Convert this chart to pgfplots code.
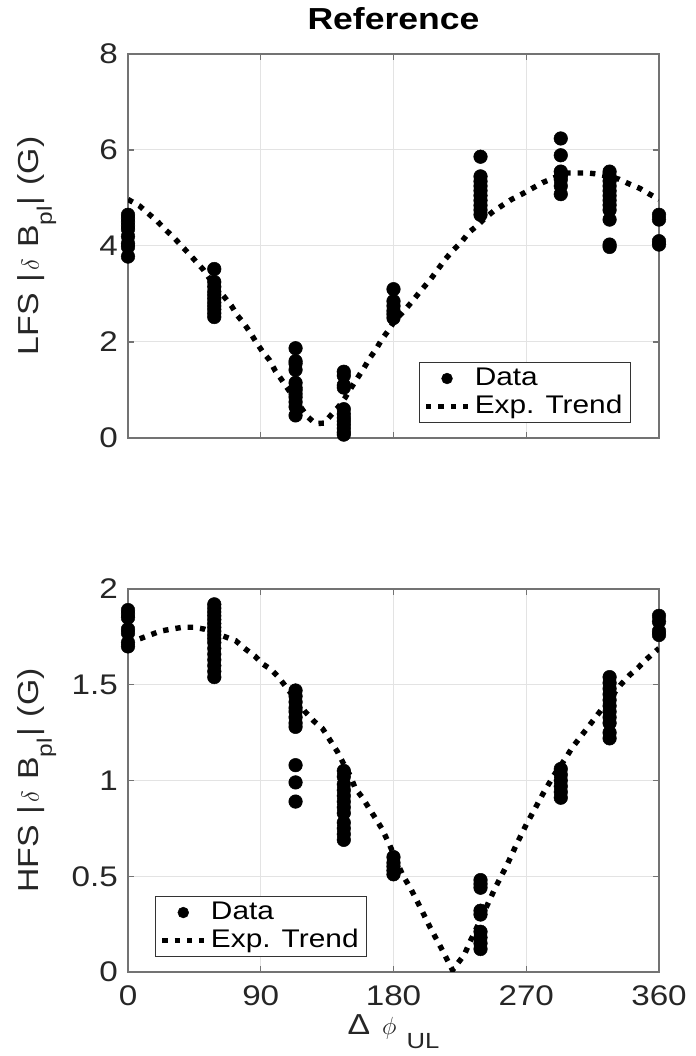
\documentclass[border=0pt]{standalone}
\usepackage{fontspec}
\setmainfont{Liberation Sans}[FakeStretch=1.17]
\usepackage{pgfplots}
\pgfplotsset{compat=1.18}
\definecolor{axgray}{gray}{0.45}
\definecolor{txt}{gray}{0.15}

\pgfplotstableread{
x y
0 4.65
0 4.58
0 4.50
0 4.42
0 4.35
0 4.20
0 4.05
0 3.98
0 3.78
58.5 3.52
58.5 3.25
58.5 3.15
58.5 3.05
58.5 2.98
58.5 2.90
58.5 2.82
58.5 2.75
58.5 2.68
58.5 2.60
58.5 2.52
113.6 1.87
113.6 1.60
113.6 1.55
113.6 1.42
113.6 1.15
113.6 1.05
113.6 1.00
113.6 0.92
113.6 0.85
113.6 0.75
113.6 0.65
113.6 0.47
146.3 1.38
146.3 1.30
146.3 1.10
146.3 1.05
146.3 0.60
146.3 0.50
146.3 0.42
146.3 0.35
146.3 0.28
146.3 0.20
146.3 0.12
146.3 0.07
180 3.10
180 2.85
180 2.75
180 2.65
180 2.58
180 2.50
239 5.86
239 5.45
239 5.35
239 5.25
239 5.15
239 5.05
239 4.95
239 4.85
239 4.75
239 4.65
293.4 6.24
293.4 5.89
293.4 5.55
293.4 5.45
293.4 5.38
293.4 5.25
293.4 5.08
326.5 5.55
326.5 5.45
326.5 5.35
326.5 5.25
326.5 5.15
326.5 5.05
326.5 4.95
326.5 4.85
326.5 4.75
326.5 4.55
326.5 4.03
326.5 3.98
360 4.65
360 4.55
360 4.10
360 4.03
}\lfsdata

\pgfplotstableread{
x y
0 4.97
8 4.83
14 4.67
20 4.51
25 4.35
31 4.18
36 4.01
41 3.85
46 3.68
51 3.51
58 3.20
65 2.95
70 2.76
74 2.56
79 2.37
83 2.19
87 1.99
91 1.81
96 1.62
100 1.39
104 1.22
108 1.04
114 0.78
121.5 0.45
127 0.30
133 0.31
138 0.49
143 0.66
147 0.83
152 1.08
156 1.27
160 1.46
164 1.67
168 1.84
172 2.05
177 2.26
181 2.45
186 2.61
192 2.82
198 3.05
205 3.30
210 3.51
215 3.72
220 3.90
226 4.08
231 4.28
237 4.43
242 4.58
248 4.73
254 4.85
260 4.97
267 5.08
274 5.20
281 5.32
288 5.41
293 5.47
298 5.52
305 5.52
312 5.52
318 5.50
326 5.45
333 5.39
340 5.29
347 5.20
353 5.09
360 4.97
}\lfstrend

\pgfplotstableread{
x y
0 1.89
0 1.87
0 1.85
0 1.79
0 1.77
0 1.72
0 1.70
58.5 1.92
58.5 1.90
58.5 1.88
58.5 1.86
58.5 1.84
58.5 1.82
58.5 1.80
58.5 1.78
58.5 1.76
58.5 1.74
58.5 1.72
58.5 1.69
58.5 1.66
58.5 1.63
58.5 1.60
58.5 1.57
58.5 1.54
113.6 1.47
113.6 1.44
113.6 1.41
113.6 1.38
113.6 1.36
113.6 1.33
113.6 1.30
113.6 1.28
113.6 1.08
113.6 0.99
113.6 0.89
146.3 1.05
146.3 1.02
146.3 0.98
146.3 0.95
146.3 0.92
146.3 0.89
146.3 0.86
146.3 0.83
146.3 0.78
146.3 0.75
146.3 0.72
146.3 0.69
180 0.60
180 0.57
180 0.55
180 0.53
180 0.51
239 0.48
239 0.46
239 0.44
239 0.32
239 0.30
239 0.21
239 0.18
239 0.15
239 0.12
293.4 1.06
293.4 1.03
293.4 1.00
293.4 0.97
293.4 0.94
293.4 0.91
326.5 1.54
326.5 1.51
326.5 1.48
326.5 1.45
326.5 1.42
326.5 1.39
326.5 1.36
326.5 1.33
326.5 1.30
326.5 1.25
326.5 1.22
360 1.86
360 1.83
360 1.78
360 1.76
}\hfsdata

\pgfplotstableread{
x y
0 1.72
8 1.74
15 1.76
22 1.78
29 1.79
37 1.80
45 1.80
52 1.79
59 1.77
66 1.75
73 1.73
79 1.69
86 1.65
91 1.61
97 1.58
102 1.54
107 1.49
114 1.42
120 1.36
126 1.31
132 1.27
137 1.21
142 1.15
146 1.09
151 1.02
154 0.96
159 0.91
163 0.86
168 0.80
172 0.75
177 0.67
182 0.58
186 0.51
192 0.43
198 0.34
205 0.23
212 0.13
216 0.07
220 0.01
223 0.04
228 0.09
232 0.16
237 0.24
243 0.34
249 0.44
257 0.56
263 0.66
270 0.77
275 0.84
282 0.94
289 1.03
297 1.12
301 1.17
307 1.23
312 1.28
320 1.36
326 1.42
334 1.50
340 1.55
346 1.59
351 1.63
357 1.67
360 1.69
}\hfstrend

\pgfplotsset{
  myaxis/.style={
    scale only axis, width=531bp, anchor=south west,
    xmin=0, xmax=360, xtick={0,90,180,270,360},
    grid=major, major grid style={gray!22, line width=1bp},
    axis line style={axgray, line width=1.3bp},
    tick style={axgray, line width=1.3bp},
    major tick length=6bp,
    tick align=inside, tick pos=both,
    ticklabel style={font=\fontsize{28.5}{30}\selectfont, text=txt, inner sep=0bp},
    xticklabel style={anchor=north, yshift=-13bp},
    yticklabel style={anchor=east, xshift=-10bp},
    /pgf/number format/assume math mode=true,
    label style={font=\fontsize{29}{31}\selectfont, text=txt},
    legend cell align=left,
    legend style={font=\fontsize{25.6}{28}\selectfont, text=black,
      draw=black!80, line width=1bp, inner xsep=4bp, inner ysep=2bp,
      row sep=0bp,
      nodes={text height=19bp, text depth=6bp, inner xsep=4bp, inner ysep=1.5bp}},
  },
  datastyle/.style={only marks, mark=*, mark size=6.8bp, black,
    mark options={draw=black, fill=black, line width=0.5bp},
    legend image code/.code={\draw[##1, mark size=5.4bp] plot coordinates {(21bp,0bp)};}},
  trendstyle/.style={black, line width=5.4bp, dash pattern=on 5.4bp off 7bp,
    legend image code/.code={\draw[##1] (0bp,0bp) -- (42bp,0bp);}},
}

\begin{document}
\begin{tikzpicture}
\useasboundingbox (0,0) rectangle (696bp,1056bp);
\begin{axis}[myaxis, at={(128bp,618bp)}, height=384bp,
  ymin=0, ymax=8, ytick={0,2,4,6,8}, xticklabels={},
  title={\bfseries Reference},
  title style={font=\fontsize{30.5}{32}\selectfont\bfseries, text=black, at={(0.5,1)}, anchor=base, yshift=19bp},
  ylabel={LFS\hspace{11bp}|\hspace{3bp}$\delta$\hspace{11bp}B\raisebox{-13bp}{\fontsize{21}{21}\selectfont pl}\hspace{1bp}|\hspace{11bp}(G)},
  ylabel style={at={(axis description cs:-0.168,0.5)}, anchor=base},
  legend style={at={(0.947,0.039)}, anchor=south east},
]
\addplot[datastyle] table[x=x,y=y] {\lfsdata};
\addlegendentry{Data}
\addplot[trendstyle] table[x=x,y=y] {\lfstrend};
\addlegendentry{Exp. Trend}
\end{axis}
\begin{axis}[myaxis, at={(128bp,84bp)}, height=383bp,
  ymin=0, ymax=2, ytick={0,0.5,1,1.5,2}, yticklabels={0,0.5,1,1.5,2},
  xlabel={Δ\hspace{12bp}$\phi$\hspace{10bp}\raisebox{-14bp}{\fontsize{22}{22}\selectfont UL}},
  xlabel style={at={(axis description cs:0.5,-0.163)}, anchor=base},
  ylabel={HFS\hspace{11bp}|\hspace{3bp}$\delta$\hspace{11bp}B\raisebox{-13bp}{\fontsize{21}{21}\selectfont pl}\hspace{1bp}|\hspace{11bp}(G)},
  ylabel style={at={(axis description cs:-0.168,0.5)}, anchor=base},
  legend style={at={(0.051,0.039)}, anchor=south west},
]
\addplot[datastyle] table[x=x,y=y] {\hfsdata};
\addlegendentry{Data}
\addplot[trendstyle] table[x=x,y=y] {\hfstrend};
\addlegendentry{Exp. Trend}
\end{axis}
\end{tikzpicture}
\end{document}
